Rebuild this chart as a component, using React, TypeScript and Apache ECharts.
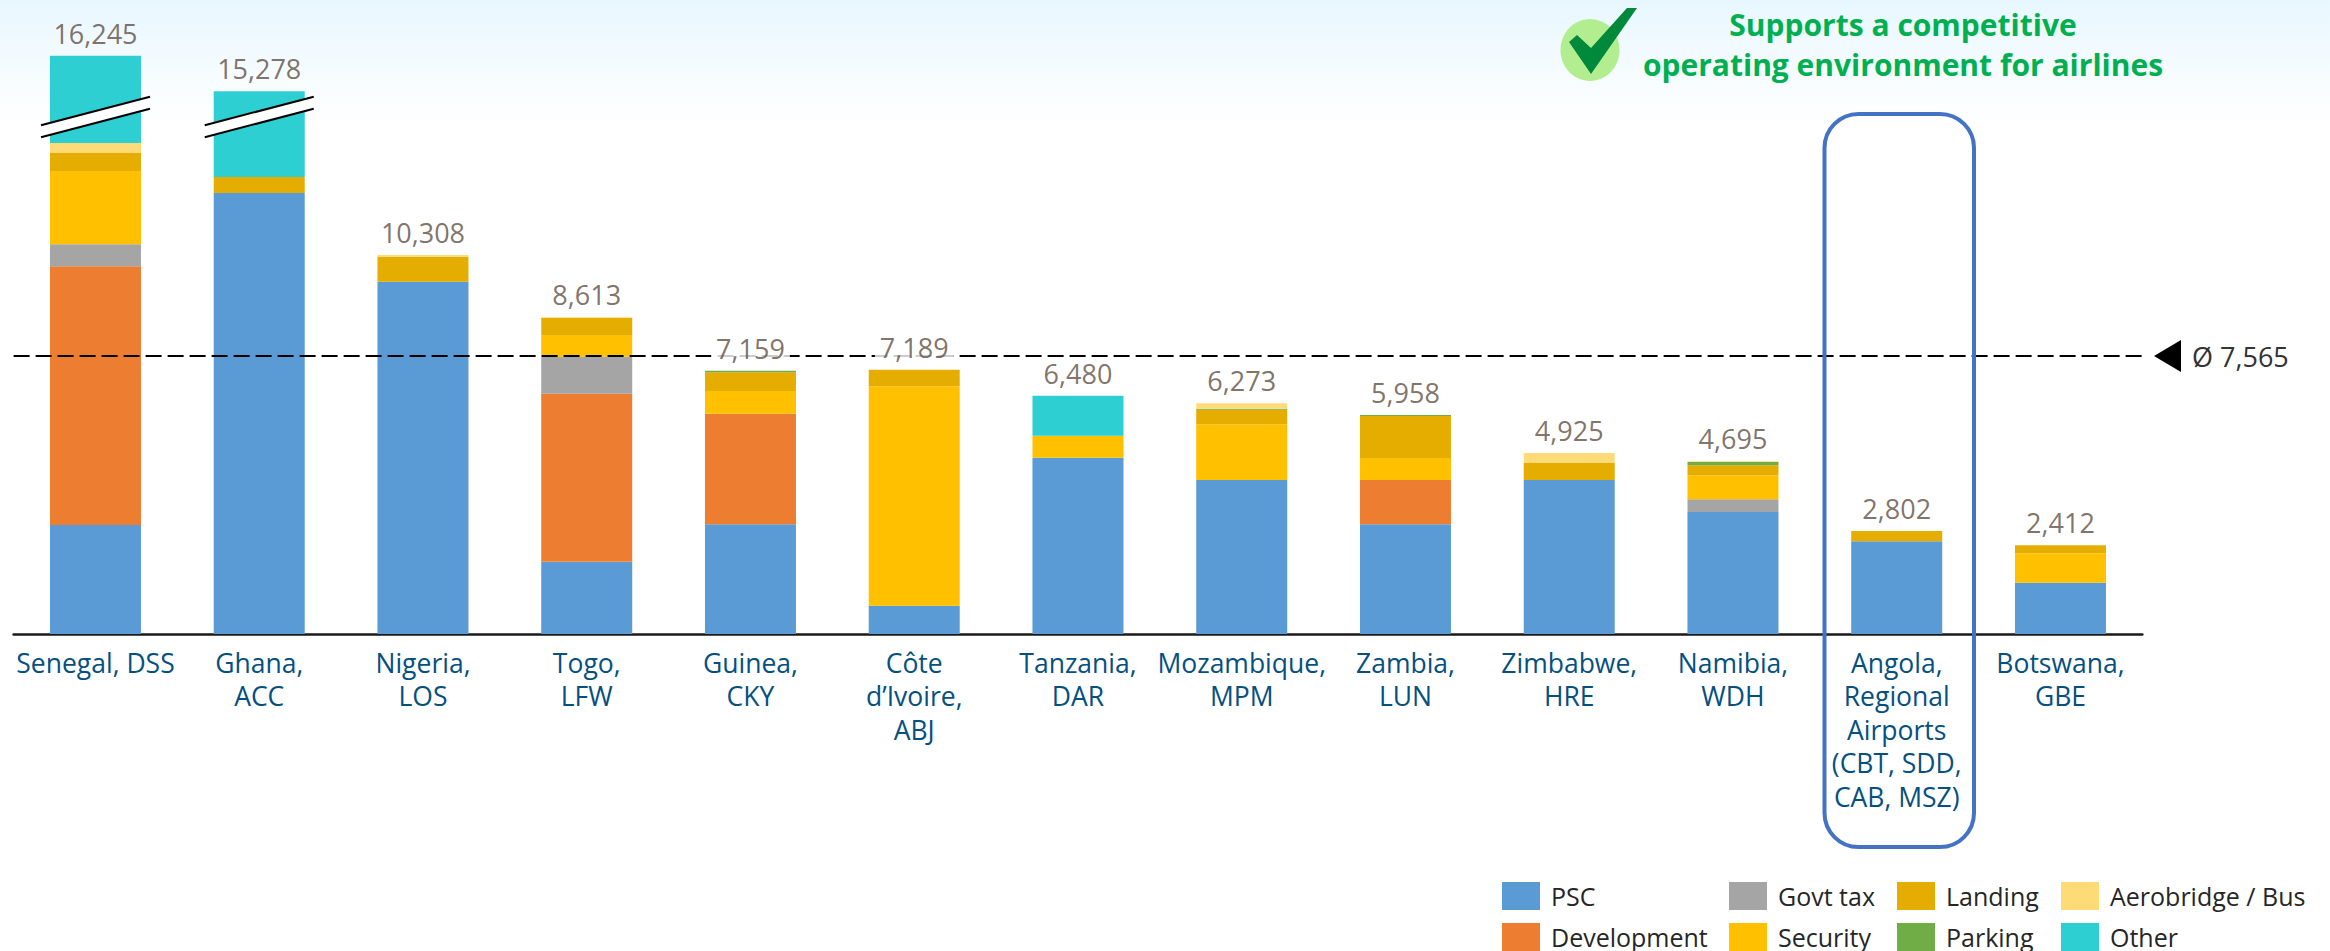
import React, { useEffect, useRef } from "react";
import * as echarts from "echarts";

const categories = [
  "Senegal, DSS", "Ghana,\nACC", "Nigeria,\nLOS", "Togo,\nLFW", "Guinea,\nCKY",
  "Côte\nd’Ivoire,\nABJ", "Tanzania,\nDAR", "Mozambique,\nMPM", "Zambia,\nLUN",
  "Zimbabwe,\nHRE", "Namibia,\nWDH", "Angola,\nRegional\nAirports\n(CBT, SDD,\nCAB, MSZ)", "Botswana,\nGBE",
];
const totals = [16245, 15278, 10308, 8613, 7159, 7189, 6480, 6273, 5958, 4925, 4695, 2802, 2412];
const psc = [2964, 11994, 9582, 1967, 2983, 771, 4795, 4188, 2983, 4188, 3318, 2520, 1396];
const development = [7035, 0, 0, 4569, 3010, 0, 0, 0, 1206, 0, 0, 0, 0];
const govtTax = [598, 0, 0, 1006, 0, 0, 0, 0, 0, 0, 345, 0, 0];
const security = [1994, 0, 0, 589, 616, 5965, 598, 1514, 598, 0, 653, 0, 798];
const landing = [490, 435, 680, 462, 508, 453, 0, 399, 1142, 462, 272, 282, 218];
const parking = [0, 0, 0, 0, 42, 0, 0, 27, 29, 0, 91, 0, 0];
const aerobridge = [272, 0, 46, 20, 0, 0, 0, 145, 0, 275, 16, 0, 0];
const other = [2892, 2849, 0, 0, 0, 0, 1087, 0, 0, 0, 0, 0, 0];
const average = 7565;
const averageLabel = "Ø 7,565";
const brokenAxisStart = 14060;
const brokenAxisEnd = 14580;
const brokenBars = [0, 1];
const labelsOnAverageLine = [7159, 7189];
const headline = "Supports a competitive\noperating environment for airlines";

const FONT = '"Open Sans", sans-serif';
const stacks: [string, number[], string][] = [
  ["PSC", psc, "#5B9BD5"],
  ["Development", development, "#ED7D31"],
  ["Govt tax", govtTax, "#A5A5A5"],
  ["Security", security, "#FFC000"],
  ["Landing", landing, "#E5AD00"],
  ["Parking", parking, "#70AD47"],
  ["Aerobridge / Bus", aerobridge, "#FFDB78"],
  ["Other", other, "#2ECFD2"],
];
const legendColumns: [number, string[]][] = [
  [1502, ["PSC", "Development"]],
  [1729, ["Govt tax", "Security"]],
  [1897, ["Landing", "Parking"]],
  [2061, ["Aerobridge / Bus", "Other"]],
];

export default function App() {
  const ref = useRef<HTMLDivElement>(null);
  useEffect(() => {
    document.body.style.margin = "0";
    const chart = echarts.init(ref.current!, null, { renderer: "svg" });
    chart.setOption({
      animation: false,
      backgroundColor: "transparent",
      grid: { left: 13.6, top: 28, width: 2128.75, height: 606 },
      legend: legendColumns.map(([left, data]) => ({
        data,
        left,
        top: 882,
        orient: "vertical",
        padding: 0,
        itemWidth: 38,
        itemHeight: 28,
        itemGap: 13,
        icon: "rect",
        selectedMode: false,
        textStyle: {
          fontFamily: FONT,
          fontSize: 25,
          lineHeight: 26,
          color: "#262626",
          padding: [0, 0, 0, 6],
        },
      })),
      xAxis: {
        type: "category",
        data: categories,
        axisTick: { show: false },
        axisLine: { onZero: false, lineStyle: { color: "#1a1a1a", width: 2.5 } },
        axisLabel: {
          interval: 0,
          margin: 12,
          fontFamily: FONT,
          fontSize: 26.5,
          lineHeight: 33.5,
          color: "#05507F",
          align: "center",
          verticalAlign: "top",
        },
      },
      yAxis: {
        type: "value",
        min: 0,
        max: 17000,
        show: false,
        splitLine: { show: false },
        breaks: [{ start: brokenAxisStart, end: brokenAxisEnd, gap: 0 }],
        breakArea: { show: false },
      },
      series: [
        ...stacks.map(([name, data, color], i) => ({
          name,
          type: "bar",
          stack: "fees",
          data,
          barWidth: 91,
          z: 2,
          itemStyle: { color },
          ...(i === 0
            ? {
                markLine: {
                  silent: true,
                  symbol: "none",
                  z: 5,
                  label: { show: false },
                  lineStyle: { color: "#000", type: [16, 6], width: 2 },
                  data: [{ yAxis: average }],
                },
              }
            : {}),
        })),
        {
          name: "Total",
          type: "scatter",
          z: 10,
          symbolSize: 1,
          itemStyle: { color: "transparent" },
          data: totals.map((value) => ({
            value,
            label: labelsOnAverageLine.includes(value)
              ? { backgroundColor: "#fff", padding: [0, 5] }
              : undefined,
          })),
          label: {
            show: true,
            position: "top",
            distance: 8,
            fontFamily: FONT,
            fontSize: 27,
            lineHeight: 28,
            color: "#5F4F43",
            formatter: (p: any) => Number(p.value).toLocaleString("en-US"),
          },
        },
        {
          name: "Axis break",
          type: "custom",
          z: 6,
          clip: false,
          silent: true,
          data: brokenBars.map((i) => [i, brokenAxisStart]),
          renderItem: (_p: any, api: any) => {
            const [cx, cy] = api.coord([api.value(0), api.value(1)]);
            const hw = 54.5, rise = 14.25, half = 6;
            return {
              type: "group",
              children: [
                {
                  type: "polygon",
                  shape: {
                    points: [
                      [cx - hw, cy + rise - half],
                      [cx + hw, cy - rise - half],
                      [cx + hw, cy - rise + half],
                      [cx - hw, cy + rise + half],
                    ],
                  },
                  style: { fill: "#fff" },
                },
                {
                  type: "line",
                  shape: { x1: cx - hw, y1: cy + rise - half, x2: cx + hw, y2: cy - rise - half },
                  style: { stroke: "#000", lineWidth: 2 },
                },
                {
                  type: "line",
                  shape: { x1: cx - hw, y1: cy + rise + half, x2: cx + hw, y2: cy - rise + half },
                  style: { stroke: "#000", lineWidth: 2 },
                },
              ],
            };
          },
        },
      ],
      graphic: [
        {
          type: "rect",
          shape: { x: 1824.5, y: 114, width: 149.5, height: 733, r: 34 },
          style: { fill: "transparent", stroke: "#4472C4", lineWidth: 4 },
          z: 20,
        },
        {
          type: "polygon",
          shape: { points: [[2154, 356], [2181, 340], [2181, 372]] },
          style: { fill: "#000" },
        },
        {
          type: "text",
          x: 2192,
          y: 356,
          style: {
            text: averageLabel,
            font: `27px ${FONT}`,
            fill: "#333",
            verticalAlign: "middle",
            align: "left",
          },
        },
        {
          type: "ellipse",
          shape: { cx: 1590, cy: 50, rx: 29.5, ry: 31 },
          style: { fill: "#B2EE8F" },
        },
        {
          type: "polygon",
          shape: {
            points: [[1569, 42], [1577, 35], [1591, 48], [1627, 8], [1637, 8], [1591, 74]],
          },
          style: { fill: "#00893A" },
        },
        {
          type: "text",
          x: 1903,
          y: 44,
          style: {
            text: headline,
            font: `bold 30px ${FONT}`,
            lineHeight: 40,
            fill: "#00B050",
            align: "center",
            verticalAlign: "middle",
          },
        },
      ],
    });
    return () => chart.dispose();
  }, []);
  return (
    <div
      ref={ref}
      style={{
        width: 2330,
        height: 951,
        background: "linear-gradient(to bottom, #E8F7FF 0px, #FFFFFF 125px)",
      }}
    />
  );
}
